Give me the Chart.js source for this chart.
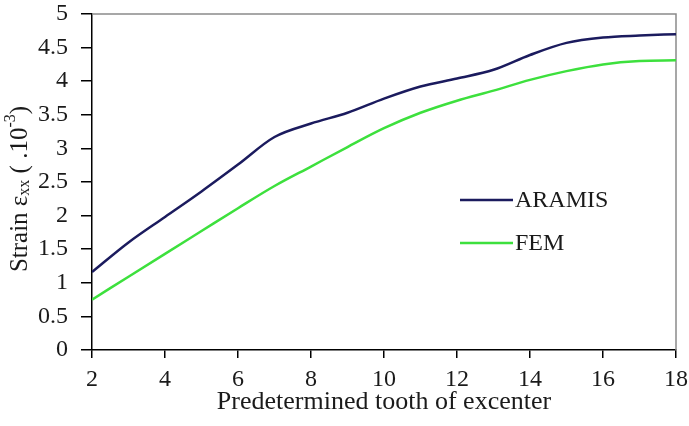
<!DOCTYPE html>
<html>
<head>
<meta charset="utf-8">
<script src="https://cdn.jsdelivr.net/npm/chart.js@4"></script>
<style>
  html, body { margin: 0; padding: 0; background: #fff; }
  #wrap { width: 689px; height: 426px; }
</style>
</head>
<body>
<div id="wrap"><canvas id="chart" width="689" height="426"></canvas></div>
<script>
// tooth positions on the excenter
const teeth = [2, 3, 4, 5, 6, 7, 8, 9, 10, 11, 12, 13, 14, 15, 16, 17, 18];
// measured strain (x 10^-3)
const aramis = [1.16, 1.60, 1.98, 2.36, 2.76, 3.17, 3.37, 3.53, 3.74, 3.92, 4.04, 4.17, 4.39, 4.57, 4.65, 4.68, 4.70];
// simulated strain (x 10^-3)
const fem = [0.75, 1.09, 1.43, 1.77, 2.11, 2.44, 2.73, 3.02, 3.30, 3.53, 3.71, 3.86, 4.02, 4.15, 4.25, 4.30, 4.31];
const xTicks = [2, 4, 6, 8, 10, 12, 14, 16, 18];

const serif = '"Liberation Serif", "Times New Roman", serif';
const textColor = '#1a1a1a';
const aramisColor = '#1b1b5e';
const femColor = '#3de03d';

const toPoints = (ys) => teeth.map((t, i) => ({ x: t, y: ys[i] }));

// grey frame on top/right, rotated y title with sub/superscript, inline legend
const extras = {
  id: 'extras',
  beforeDatasetsDraw(chart) {
    const { ctx, chartArea: a } = chart;
    ctx.save();
    ctx.strokeStyle = '#8a8a8a';
    ctx.lineWidth = 1.5;
    ctx.beginPath();
    ctx.moveTo(a.left, a.top);
    ctx.lineTo(a.right, a.top);
    ctx.lineTo(a.right, a.bottom);
    ctx.stroke();
    ctx.restore();
  },
  afterDraw(chart) {
    const { ctx } = chart;
    ctx.save();

    // y axis title
    const big = '25px ' + serif;
    const small = '16px ' + serif;
    const parts = [
      { t: 'Strain \u03b5', f: big, dy: 0 },
      { t: 'xx', f: small, dy: 5 },
      { t: ' ( .10', f: big, dy: 0 },
      { t: '-3', f: small, dy: -9 },
      { t: ')', f: big, dy: 0 }
    ];
    let total = 0;
    parts.forEach(p => { ctx.font = p.f; p.w = ctx.measureText(p.t).width; total += p.w; });
    ctx.translate(20, 189);
    ctx.rotate(-Math.PI / 2);
    ctx.fillStyle = textColor;
    ctx.textBaseline = 'middle';
    ctx.textAlign = 'left';
    let x = -total / 2;
    parts.forEach(p => {
      ctx.font = p.f;
      ctx.fillText(p.t, x, p.dy);
      x += p.w;
    });
    ctx.restore();

    // legend
    ctx.save();
    const items = [
      { label: 'ARAMIS', color: aramisColor, y: 200 },
      { label: 'FEM', color: femColor, y: 243 }
    ];
    ctx.font = '24px ' + serif;
    ctx.textBaseline = 'middle';
    ctx.fillStyle = textColor;
    items.forEach(it => {
      ctx.strokeStyle = it.color;
      ctx.lineWidth = 2.5;
      ctx.beginPath();
      ctx.moveTo(460, it.y);
      ctx.lineTo(513, it.y);
      ctx.stroke();
      ctx.fillText(it.label, 515, it.y + 1);
    });
    ctx.restore();
  }
};

new Chart(document.getElementById('chart'), {
  type: 'line',
  data: {
    datasets: [
      {
        label: 'ARAMIS',
        data: toPoints(aramis),
        borderColor: aramisColor,
        borderWidth: 2.5,
        pointRadius: 0,
        cubicInterpolationMode: 'monotone',
        fill: false
      },
      {
        label: 'FEM',
        data: toPoints(fem),
        borderColor: femColor,
        borderWidth: 2.5,
        pointRadius: 0,
        cubicInterpolationMode: 'monotone',
        fill: false
      }
    ]
  },
  options: {
    responsive: false,
    animation: false,
    events: [],
    layout: { padding: { top: 14, right: 13, left: 0, bottom: 0 } },
    plugins: {
      legend: { display: false },
      tooltip: { enabled: false }
    },
    scales: {
      x: {
        type: 'linear',
        min: 2,
        max: 18,
        afterFit: (s) => { s.height = 76; s.paddingLeft = 0; s.paddingRight = 0; },
        afterBuildTicks: (s) => { s.ticks = xTicks.map(v => ({ value: v })); },
        border: { color: '#000', width: 1.5 },
        grid: { drawOnChartArea: false, drawTicks: true, tickLength: 8, color: '#000', lineWidth: 1.5 },
        ticks: { padding: 7, color: textColor, font: { family: serif, size: 24 }, maxRotation: 0 },
        title: {
          display: true,
          text: 'Predetermined tooth of excenter',
          color: textColor,
          font: { family: serif, size: 26 },
          padding: { top: 0, bottom: 8 }
        }
      },
      y: {
        min: 0,
        max: 5,
        afterFit: (s) => { s.width = 92; s.paddingTop = 0; s.paddingBottom = 0; },
        border: { color: '#000', width: 1.5 },
        grid: { drawOnChartArea: false, drawTicks: true, tickLength: 11, color: '#000', lineWidth: 1.5 },
        ticks: {
          stepSize: 0.5,
          padding: 13,
          color: textColor,
          font: { family: serif, size: 24 },
          callback: (v) => String(+v.toFixed(1))
        }
      }
    }
  },
  plugins: [extras]
});
</script>
</body>
</html>
